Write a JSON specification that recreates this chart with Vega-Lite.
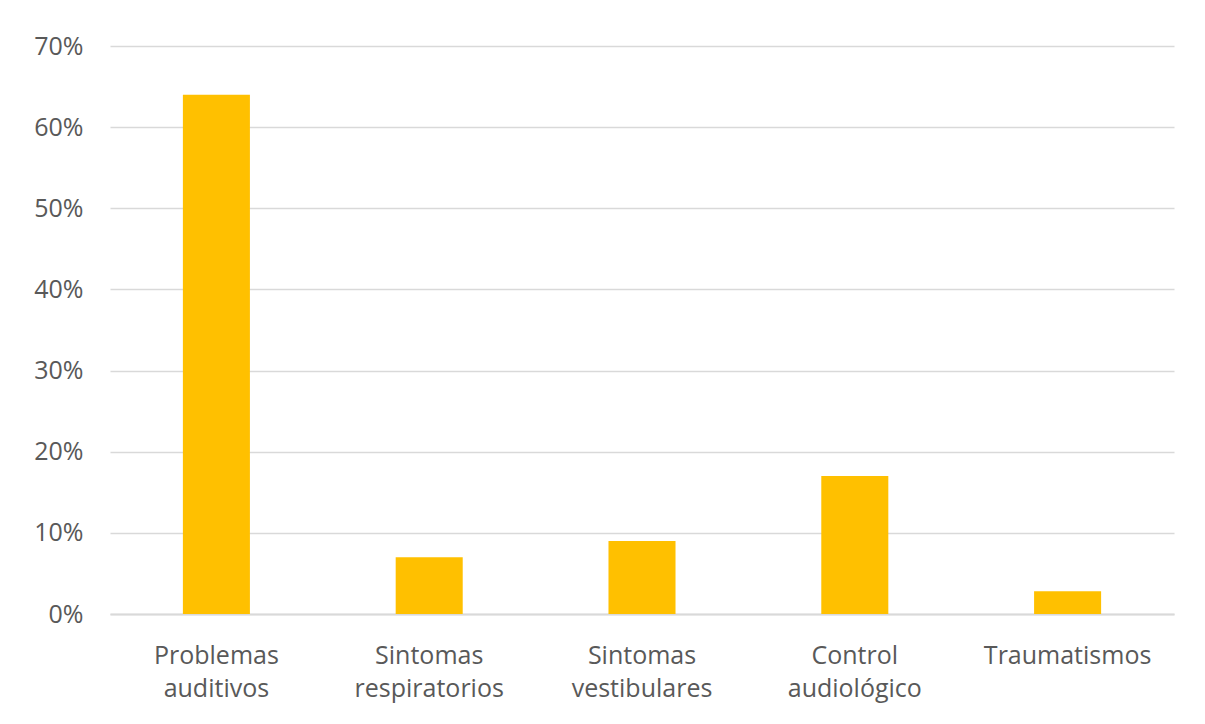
{
  "$schema": "https://vega.github.io/schema/vega-lite/v6.json",
  "width": 1064,
  "height": 568,
  "autosize": {"type": "none"},
  "padding": {"left": 110, "top": 46, "right": 31, "bottom": 110},
  "background": "white",
  "config": {
    "view": {"stroke": null},
    "font": "Open Sans"
  },
  "data": {
    "values": [
      {"categoria": "Problemas auditivos", "valor": 0.64},
      {"categoria": "Sintomas respiratorios", "valor": 0.07},
      {"categoria": "Sintomas vestibulares", "valor": 0.09},
      {"categoria": "Control audiológico", "valor": 0.17},
      {"categoria": "Traumatismos", "valor": 0.028}
    ]
  },
  "mark": {"type": "bar", "color": "#FFC000"},
  "encoding": {
    "x": {
      "field": "categoria",
      "type": "nominal",
      "sort": null,
      "scale": {"paddingInner": 0.685, "paddingOuter": 0.3425},
      "axis": {
        "title": null,
        "labelAngle": 0,
        "labelExpr": "datum.label == 'Traumatismos' ? datum.label : split(datum.label, ' ')",
        "labelFontSize": 25,
        "labelColor": "#595959",
        "labelLineHeight": 33,
        "labelPadding": 29,
        "ticks": false,
        "domainColor": "#d9d9d9",
        "domainWidth": 2
      }
    },
    "y": {
      "field": "valor",
      "type": "quantitative",
      "scale": {"domain": [0, 0.7]},
      "axis": {
        "title": null,
        "format": ".0%",
        "values": [0, 0.1, 0.2, 0.3, 0.4, 0.5, 0.6, 0.7],
        "labelFontSize": 25,
        "labelColor": "#595959",
        "labelPadding": 27,
        "ticks": false,
        "domain": false,
        "gridColor": "#d9d9d9",
        "gridWidth": 1.5
      }
    }
  }
}
